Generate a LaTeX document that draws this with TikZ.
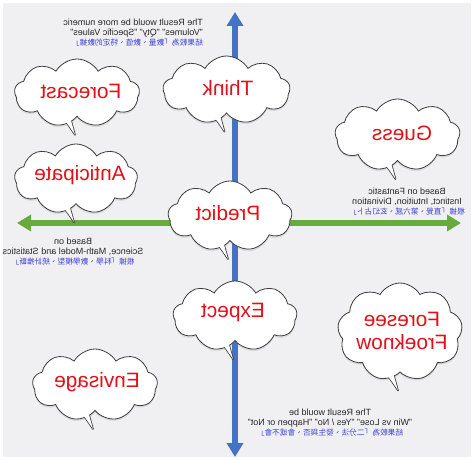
\documentclass[tikz,border=0pt]{standalone}
\usepackage{fontspec}
\setmainfont{Liberation Sans}
\newfontfamily\cjk{Noto Sans CJK TC}
\usetikzlibrary{shapes.symbols,arrows.meta,shadows,calc}
\definecolor{bgc}{RGB}{240,240,242}
\definecolor{axblue}{RGB}{68,114,196}
\definecolor{axgreen}{RGB}{104,170,62}
\definecolor{wordred}{RGB}{226,16,24}
\definecolor{cjkblue}{RGB}{64,64,214}
\definecolor{bubbleline}{RGB}{60,60,60}
\pgfdeclarelayer{back}
\pgfdeclarelayer{mid}
\pgfsetlayers{back,mid,main}
\newcommand\btail[1]{%
  \begin{pgfonlayer}{mid}
  \draw[bubbleline,line width=1.6pt,fill=white,line join=round]
    ($(#1.south)+(-25,-7)$) .. controls ($(#1.south)+(-12,3)$) .. ($(#1.south)+(-2,18)$)
    .. controls ($(#1.south)+(-5,6)$) .. ($(#1.south)+(-9,-7)$) -- cycle;
  \end{pgfonlayer}
  \fill[white]
    ($(#1.south)+(-25,-7)$) .. controls ($(#1.south)+(-12,3)$) .. ($(#1.south)+(-2,18)$)
    .. controls ($(#1.south)+(-5,6)$) .. ($(#1.south)+(-9,-7)$) -- cycle;}
\begin{document}
\begin{tikzpicture}[x=1pt,y=-1pt,
  bubble/.style={cloud, cloud puffs=9, cloud puff arc=120, cloud ignores aspect,
    draw=bubbleline, line width=0.8pt, fill=white, inner sep=0pt,
    drop shadow={opacity=0.18, shadow xshift=0pt, shadow yshift=-2pt}},
  word/.style={font=\fontsize{20.8}{23}\selectfont, text=wordred, xscale=-1, inner sep=0pt, align=center},
  note/.style={font=\fontsize{9}{10}\selectfont, text=black!85, xscale=-1, inner sep=0pt},
  axis/.style={line width=6pt, {Triangle[width=16pt,length=14pt]}-{Triangle[width=16pt,length=14pt]}}
]
\useasboundingbox (0,0) rectangle (474,460);

% axes
\coordinate (vtop) at (235,12);
\coordinate (vbot) at (235,457);
\coordinate (hleft) at (17,223);
\coordinate (hright) at (461,223);
\begin{pgfonlayer}{back}
\fill[white] (0,0) rectangle (474,460);
\fill[bgc] (3,3) rectangle (471,457);
\draw[axis, axblue] (vbot) -- (vtop);
\draw[axis, axgreen] (hleft) -- (hright);
\end{pgfonlayer}

% clouds
\node[bubble, minimum width=127pt, minimum height=68pt] (think) at (226.5,90) {};
\btail{think}
\node[word] (thinkt) at (228,88) {Think};

\node[bubble, minimum width=125pt, minimum height=68pt] (forecast) at (77,93) {};
\btail{forecast}
\node[word] (forecastt) at (81,91) {Forecast};

\node[bubble, minimum width=123pt, minimum height=70pt] (anticipate) at (76,179) {};
\btail{anticipate}
\node[word] (anticipatet) at (80,175) {Anticipate};

\node[bubble, minimum width=125pt, minimum height=72pt] (guess) at (397.5,135) {};
\btail{guess}
\node[word] (guesst) at (402,133) {Guess};

\node[bubble, minimum width=124pt, minimum height=70pt] (predict) at (230,216) {};
\btail{predict}
\node[word] (predictt) at (228,213) {Predict};

\node[bubble, minimum width=124pt, minimum height=70pt] (expect) at (235,316) {};
\btail{expect}
\node[word] (expectt) at (233,313) {Expect};

\node[bubble, minimum width=125pt, minimum height=98pt] (foresee) at (400,332) {};
\btail{foresee}
\node[word] (foreseet) at (402,331) {Foresee\\Froeknow};

\node[bubble, minimum width=125pt, minimum height=72pt] (envisage) at (95,385) {};
\btail{envisage}
\node[word] (envisaget) at (97,382) {Envisage};

% notes
\node[note, align=left, anchor=west] (topnote) at (203,33)
  {The Result would be more numeric\\"Volumes" "Qty" "Specific Values"\\
   {\cjk\fontsize{7.7}{10}\selectfont\color{cjkblue}結果較為「數量、數值、特定的數據」}};
\node[note, align=center] (rightnote) at (407,202)
  {Based on Fantastic\\Instinct, Intuition, Divination\\
   {\cjk\fontsize{7.7}{10}\selectfont\color{cjkblue}根據「直覺、第六感、玄幻占卜」}};
\node[note, align=center] (leftnote) at (73,252)
  {Based on\\Science, Math-Model and Statistics\\
   {\cjk\fontsize{7.7}{10}\selectfont\color{cjkblue}根據「科學、數學模型、統計推斷」}};
\node[note, align=center] (bottomnote) at (330,423)
  {The Result would be\\"Win vs Lose" "Yes / No" "Happen or Not"\\
   {\cjk\fontsize{7.7}{10}\selectfont\color{cjkblue}結果較為「二分法、發生與否、會或不會」}};
\end{tikzpicture}
\end{document}
